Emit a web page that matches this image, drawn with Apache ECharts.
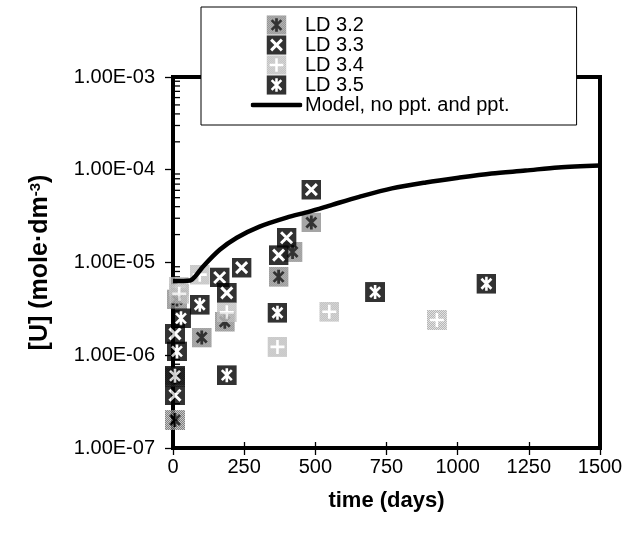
<!DOCTYPE html>
<html>
<head>
<meta charset="utf-8">
<script src="https://cdn.jsdelivr.net/npm/echarts@6/dist/echarts.min.js"></script>
<style>html,body{margin:0;padding:0;background:#fff;}#c{width:634px;height:533px;}</style>
</head>
<body>
<div id="c"></div>
<script>
// ---------- data ----------
const seriesNames = ['LD 3.2', 'LD 3.3', 'LD 3.4', 'LD 3.5', 'Model, no ppt. and ppt.'];

const ld32Days   = [7,      7,      14,     101,    182,    371,    420,    486];
const ld32Values = [2.0e-7, 5.8e-7, 4.0e-6, 1.55e-6, 2.3e-6, 7.0e-6, 1.3e-5, 2.7e-5];

const ld33Days   = [7,      7,      164,    189,    241,    371,    399,     486];
const ld33Values = [3.7e-7, 1.7e-6, 6.9e-6, 4.7e-6, 8.8e-6, 1.2e-5, 1.85e-5, 6.1e-5];

const ld34Days   = [20,     22,     94,     189,    367,     549,     927];
const ld34Values = [5.5e-6, 4.6e-6, 7.4e-6, 2.9e-6, 1.23e-6, 2.94e-6, 2.4e-6];

const ld35Days   = [7,      14,     28,     94,     189,    367,     710,    1101];
const ld35Values = [6.0e-7, 1.1e-6, 2.5e-6, 3.5e-6, 6.1e-7, 2.87e-6, 4.8e-6, 5.9e-6];

const modelDays   = [0,      60,     80,     105,    164,     224,     304,     399,     479,     559,     654,    769,    888,    1003,   1119,   1238,   1353,    1500];
const modelValues = [6.3e-6, 6.4e-6, 7.2e-6, 9.0e-6, 1.37e-5, 1.85e-5, 2.44e-5, 3.05e-5, 3.54e-5, 4.19e-5, 5.1e-5, 6.3e-5, 7.3e-5, 8.2e-5, 9.1e-5, 9.8e-5, 1.06e-4, 1.11e-4];

const xTicks = [0, 250, 500, 750, 1000, 1250, 1500];
const yTicks = [1e-7, 1e-6, 1e-5, 1e-4, 1e-3];
const yTickLabels = ['1.00E-07', '1.00E-06', '1.00E-05', '1.00E-04', '1.00E-03'];
const yMinorTicks = [2e-7,3e-7,4e-7,5e-7,6e-7,7e-7,8e-7,9e-7,
                     2e-6,3e-6,4e-6,5e-6,6e-6,7e-6,8e-6,9e-6,
                     2e-5,3e-5,4e-5,5e-5,6e-5,7e-5,8e-5,9e-5,
                     2e-4,3e-4,4e-4,5e-4,6e-4,7e-4,8e-4,9e-4];

// ---------- styling helpers ----------
const FONT = "'Liberation Sans', Arial, Helvetica, sans-serif";

function pat(id, dark, light) {
  return '<pattern id="' + id + '" width="2" height="2" patternUnits="userSpaceOnUse">' +
    '<rect width="2" height="2" fill="' + light + '"/>' +
    '<rect width="1" height="1" fill="' + dark + '"/>' +
    '<rect x="1" y="1" width="1" height="1" fill="' + dark + '"/></pattern>';
}
function markerSvg(kind, w, h) {
  const ox = (w - 20) / 2, oy = (h - 20) / 2;
  let defs = '', body = '';
  const star = 'M5 5L15 15M15 5L5 15M10 3L10 17';
  if (kind === 0) {
    defs = pat('p', '#5a5a5a', '#c4c4c4');
    body = '<rect width="20" height="20" fill="url(#p)"/><path d="' + star + '" stroke="#000" stroke-width="2.8"/>';
  } else if (kind === 1) {
    body = '<rect width="20" height="20" fill="#000"/><path d="M4.5 4.5L15.5 15.5M15.5 4.5L4.5 15.5" stroke="#fff" stroke-width="3"/>';
  } else if (kind === 2) {
    defs = pat('p', '#9c9c9c', '#e4e4e4');
    body = '<rect width="20" height="20" fill="url(#p)"/><path d="M10 3L10 17M3 10L17 10" stroke="#fff" stroke-width="2.6"/>';
  } else if (kind === 3) {
    body = '<rect width="20" height="20" fill="#000"/><path d="' + star + '" stroke="#fff" stroke-width="2.6"/>';
  } else {
    body = '<path d="M' + (-ox + 2) + ' 10L' + (w - ox - 2) + ' 10" stroke="#000" stroke-width="4.5" stroke-linecap="round"/>';
  }
  const svg = '<svg xmlns="http://www.w3.org/2000/svg" width="' + w + '" height="' + h + '" viewBox="0 0 ' + w + ' ' + h + '">' +
    '<defs>' + defs + '</defs><g transform="translate(' + ox + ',' + oy + ')">' + body + '</g></svg>';
  return 'image://data:image/svg+xml;charset=utf-8,' + encodeURIComponent(svg);
}

function zip(a, b) { return a.map((v, i) => [v, b[i]]); }

const scatterData = [
  zip(ld32Days, ld32Values),
  zip(ld33Days, ld33Values),
  zip(ld34Days, ld34Values),
  zip(ld35Days, ld35Values)
];

function yLabel(v) {
  for (let i = 0; i < yTicks.length; i++) {
    if (Math.abs(Math.log10(v) - Math.log10(yTicks[i])) < 1e-6) return yTickLabels[i];
  }
  return '';
}

const chart = echarts.init(document.getElementById('c'), null, { renderer: 'canvas' });

const series = scatterData.map((d, i) => ({
  name: seriesNames[i],
  type: 'scatter',
  data: d,
  symbol: markerSvg(i, 20, 20),
  symbolSize: 20,
  z: 2,
  animation: false
}));

series.push({
  name: 'minor',
  type: 'custom',
  data: yMinorTicks.map(v => [0, v]),
  silent: true,
  clip: false,
  z: 1,
  renderItem: function (params, api) {
    const p = api.coord([api.value(0), api.value(1)]);
    return { type: 'line', shape: { x1: p[0] + 2, y1: p[1], x2: p[0] + 7, y2: p[1] },
             style: { stroke: '#000', lineWidth: 1.3 } };
  },
  animation: false
});

series.push({
  name: seriesNames[4],
  type: 'line',
  data: zip(modelDays, modelValues),
  symbol: 'none',
  smooth: 0.3,
  lineStyle: { color: '#000', width: 4.5 },
  itemStyle: { color: '#000' },
  z: 3,
  animation: false
});

chart.setOption({
  animation: false,
  backgroundColor: '#fff',
  textStyle: { fontFamily: FONT },
  grid: { left: 173, right: 34, top: 77, bottom: 85, show: true, borderColor: '#000', borderWidth: 4, backgroundColor: 'transparent' },
  legend: {
    orient: 'vertical',
    left: 201, top: 7,
    padding: [8, 67, 10, 49],
    itemGap: 0,
    itemWidth: 53,
    itemHeight: 19.5,
    backgroundColor: '#fff',
    borderColor: '#000',
    borderWidth: 1,
    borderRadius: 0,
    selectedMode: false,
    textStyle: { fontFamily: FONT, fontSize: 20, color: '#000', lineHeight: 19.5, padding: [0, 0, 0, -3] },
    data: [
      { name: seriesNames[0], icon: markerSvg(0, 53, 20) },
      { name: seriesNames[1], icon: markerSvg(1, 53, 20) },
      { name: seriesNames[2], icon: markerSvg(2, 53, 20) },
      { name: seriesNames[3], icon: markerSvg(3, 53, 20) },
      { name: seriesNames[4], icon: markerSvg(4, 53, 20) }
    ],
    z: 10
  },
  xAxis: [{
    type: 'value', min: xTicks[0], max: xTicks[xTicks.length - 1], interval: 250,
    position: 'bottom',
    axisLine: { show: true, onZero: false, lineStyle: { color: '#000', width: 4 } },
    axisTick: { show: true, length: 7, lineStyle: { color: '#000', width: 1.3 } },
    axisLabel: { fontFamily: FONT, fontSize: 20, color: '#000', margin: 9, formatter: v => String(v) },
    splitLine: { show: false },
    name: 'time (days)', nameLocation: 'middle', nameGap: 42,
    nameTextStyle: { fontFamily: FONT, fontSize: 22, fontWeight: 'bold', color: '#000' }
  }, {
    type: 'value', min: xTicks[0], max: xTicks[xTicks.length - 1], interval: 250,
    position: 'bottom',
    axisLine: { show: false },
    axisTick: { show: true, inside: true, length: 6, lineStyle: { color: '#000', width: 1.3 } },
    axisLabel: { show: false },
    splitLine: { show: false }
  }],
  yAxis: {
    type: 'log', logBase: 10, min: yTicks[0], max: yTicks[yTicks.length - 1],
    axisLine: { show: true, lineStyle: { color: '#000', width: 4 } },
    axisTick: { show: true, length: 8, lineStyle: { color: '#000', width: 1.3 } },
    minorTick: { show: false },
    axisLabel: { fontFamily: FONT, fontSize: 20, color: '#000', margin: 18, formatter: yLabel },
    splitLine: { show: false },
    name: '[U] (mole·dm{sup|-3})', nameLocation: 'middle', nameGap: 120,
    nameTextStyle: { fontFamily: FONT, fontSize: 25, fontWeight: 'bold', color: '#000',
      rich: { sup: { fontFamily: FONT, fontSize: 15, fontWeight: 'bold', color: '#000', verticalAlign: 'top', lineHeight: 15 } } }
  },
  series: series
});
</script>
</body>
</html>
